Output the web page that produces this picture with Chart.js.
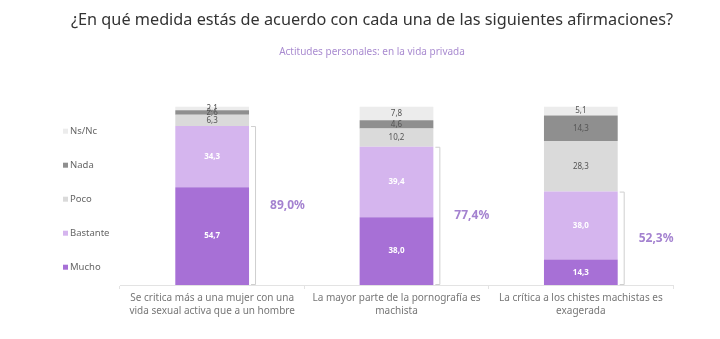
<!DOCTYPE html>
<html lang="es">
<head>
<meta charset="UTF-8" />
<title>Actitudes personales</title>
<script src="https://cdn.jsdelivr.net/npm/chart.js"></script>
<style>
	body { margin: 0; background: #fff; }
	#wrap { width: 720px; height: 339px; }
</style>
</head>
<body>
<div id="wrap"><canvas id="chart"></canvas></div>
<script>
const categories = [
	["Se critica más a una mujer con una", "vida sexual activa que a un hombre"],
	["La mayor parte de la pornografía es", "machista"],
	["La crítica a los chistes machistas es", "exagerada"],
];
const seriesNames = ["Mucho", "Bastante", "Poco", "Nada", "Ns/Nc"];
const mucho = [54.7, 38.0, 14.3];
const bastante = [34.3, 39.4, 38.0];
const poco = [6.3, 10.2, 28.3];
const nada = [2.6, 4.6, 14.3];
const nsnc = [2.1, 7.8, 5.1];

const colors = ["#a770d6", "#d5b5ee", "#dadada", "#8f8f8f", "#ececec"];
const FONT = "'Noto Sans', sans-serif";
const fmt = (v) => v.toFixed(1).replace(".", ",");

// values inside each segment
const segmentLabels = {
	id: "segmentLabels",
	afterDatasetsDraw(chart) {
		const ctx = chart.ctx;
		ctx.save();
		ctx.textAlign = "center";
		ctx.textBaseline = "middle";
		chart.data.datasets.forEach((ds, i) => {
			chart.getDatasetMeta(i).data.forEach((bar, j) => {
				const y = (bar.y + bar.base) / 2;
				if (i < 2) {
					ctx.font = "bold 8px " + FONT;
					ctx.fillStyle = "#fff";
				} else {
					ctx.font = "8px " + FONT;
					ctx.fillStyle = "#555";
				}
				ctx.fillText(fmt(ds.data[j]), bar.x, y);
			});
		});
		ctx.restore();
	},
};

// bracket + total of Mucho + Bastante
const brackets = {
	id: "brackets",
	afterDatasetsDraw(chart) {
		const ctx = chart.ctx;
		const m0 = chart.getDatasetMeta(0).data;
		const m1 = chart.getDatasetMeta(1).data;
		ctx.save();
		m1.forEach((bar, j) => {
			const top = bar.y;
			const bottom = m0[j].base;
			const x = bar.x + bar.width / 2 + 6;
			ctx.strokeStyle = "#cfcfcf";
			ctx.lineWidth = 1;
			ctx.beginPath();
			ctx.moveTo(x - 4, top + 0.5);
			ctx.lineTo(x + 0.5, top + 0.5);
			ctx.lineTo(x + 0.5, bottom - 0.5);
			ctx.lineTo(x - 4, bottom - 0.5);
			ctx.stroke();
			ctx.font = "bold 12px " + FONT;
			ctx.fillStyle = "#a482d0";
			ctx.textAlign = "left";
			ctx.textBaseline = "middle";
			ctx.fillText(fmt(mucho[j] + bastante[j]) + "%", x + 15, (top + bottom) / 2);
		});
		ctx.restore();
	},
};

// legend drawn on the left, top item = last series
const sideLegend = {
	id: "sideLegend",
	afterDraw(chart) {
		const ctx = chart.ctx;
		const area = chart.chartArea;
		const n = chart.data.datasets.length;
		const step = 34;
		const x = area.left - 57;
		const y0 = (area.top + area.bottom) / 2 + 3.5 - step * (n - 1) / 2;
		ctx.save();
		ctx.font = "9.5px " + FONT;
		ctx.textBaseline = "middle";
		ctx.textAlign = "left";
		for (let k = 0; k < n; k++) {
			const ds = chart.data.datasets[n - 1 - k];
			const y = y0 + k * step;
			ctx.fillStyle = ds.backgroundColor;
			ctx.fillRect(x, y - 2.5, 5, 5);
			ctx.fillStyle = "#666";
			ctx.fillText(ds.label, x + 7, y);
		}
		ctx.restore();
	},
};

const allSeries = [mucho, bastante, poco, nada, nsnc];

new Chart(document.getElementById("chart"), {
	type: "bar",
	data: {
		labels: categories,
		datasets: allSeries.map((d, i) => ({
			label: seriesNames[i],
			data: d,
			backgroundColor: colors[i],
			barPercentage: 0.4,
			categoryPercentage: 1,
		})),
	},
	options: {
		responsive: true,
		maintainAspectRatio: false,
		animation: false,
		layout: { padding: { left: 71, right: 47, top: 0, bottom: 18 } },
		plugins: {
			legend: { display: false },
			tooltip: { enabled: false },
			title: {
				display: true,
				text: "¿En qué medida estás de acuerdo con cada una de las siguientes afirmaciones?",
				color: "#333",
				font: { family: FONT, size: 17, weight: "normal" },
				padding: { top: 10, bottom: 0 },
			},
			subtitle: {
				display: true,
				text: "Actitudes personales: en la vida privada",
				color: "#a98bd0",
				font: { family: FONT, size: 10 },
				padding: { top: 16, bottom: 48 },
			},
		},
		scales: {
			x: {
				stacked: true,
				grid: {
					display: true,
					offset: true,
					drawOnChartArea: false,
					tickLength: 4,
					color: "#e3e3e3",
				},
				border: { color: "#e3e3e3" },
				ticks: {
					color: "#777",
					padding: 3,
					maxRotation: 0,
					font: { family: FONT, size: 10, lineHeight: 1.3 },
				},
			},
			y: {
				stacked: true,
				min: 0,
				max: 100,
				ticks: { display: false },
				grid: { display: false },
				border: { display: false },
				afterFit: (scale) => { scale.width = 49; },
			},
		},
	},
	plugins: [segmentLabels, brackets, sideLegend],
});
</script>
</body>
</html>
